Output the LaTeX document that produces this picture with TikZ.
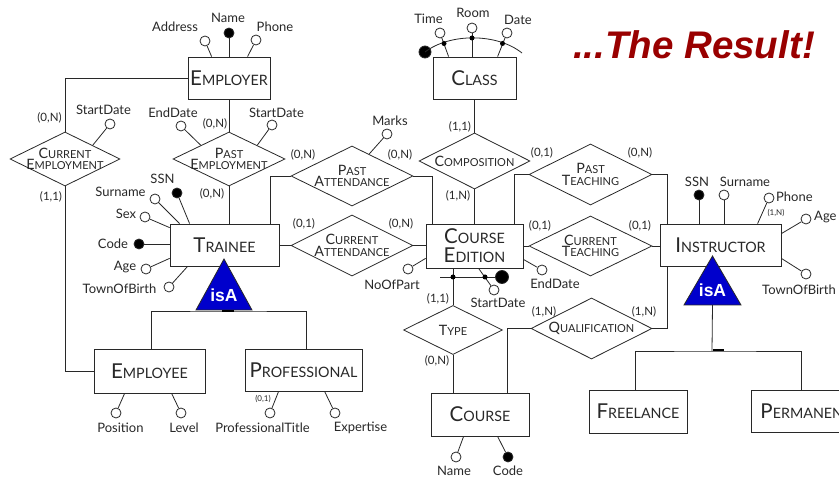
\documentclass[tikz,border=0pt]{standalone}
\usepackage{fontspec}
\setmainfont{Lato}
\newfontfamily\arialf{Liberation Sans}
\usetikzlibrary{shapes.geometric}
\definecolor{titlered}{RGB}{153,0,0}
\definecolor{isablue}{RGB}{0,0,204}
\definecolor{inkc}{RGB}{40,40,40}
\newcommand\EntSC[2]{{\fontsize{20.5}{21}\selectfont #1}{\fontsize{14.3}{15}\selectfont #2}}
\newcommand\RelSC[2]{{\fontsize{14.3}{11.5}\selectfont #1}{\fontsize{11}{11.5}\selectfont #2}}
\begin{document}
\begin{tikzpicture}[x=1pt,y=-1pt,
  ln/.style={draw=inkc, line width=0.8pt},
  ent/.style={draw=inkc, line width=0.8pt, fill=white, inner sep=0pt, text=inkc},
  rel/.style={diamond, draw=inkc, line width=0.8pt, fill=white, inner sep=0pt},
  reltext/.style={align=center, inner sep=0pt, text=inkc, font=\fontsize{11}{11.5}\selectfont},
  attr/.style={circle, draw=inkc, line width=0.8pt, fill=white, minimum size=10pt, inner sep=0pt},
  keyattr/.style={attr, fill=black},
  iddot/.style={circle, fill=black, minimum size=5pt, inner sep=0pt},
  lbl/.style={inner sep=0pt, text=inkc, font=\fontsize{13}{13}\selectfont},
  card/.style={inner sep=0pt, text=inkc, font=\fontsize{11.5}{12}\selectfont},
  tinycard/.style={inner sep=0pt, text=inkc, font=\fontsize{8}{8}\selectfont},
  isa/.style={draw=inkc, line width=0.8pt, fill=isablue},
  isatext/.style={inner sep=0pt, text=white, font=\arialf\bfseries\fontsize{17.5}{18}\selectfont}
]
\useasboundingbox (0,0) rectangle (839,478);
\fill[white] (0,0) rectangle (839,478);
\clip (0,0) rectangle (839,478);

% title
\node[inner sep=0pt, text=titlered, font=\arialf\bfseries\itshape\fontsize{38.5}{40}\selectfont] (title) at (694,45) {...The Result!};

% entities
\node[ent, minimum width=82pt, minimum height=42pt] (employer) at (229,78) {\EntSC{E}{MPLOYER}};
\node[ent, minimum width=109pt, minimum height=42pt] (trainee) at (224.5,245) {\EntSC{T}{RAINEE}};
\node[ent, minimum width=111pt, minimum height=44pt] (employee) at (149.5,371) {\EntSC{E}{MPLOYEE}};
\node[ent, minimum width=117pt, minimum height=42pt] (professional) at (303.5,370) {\EntSC{P}{ROFESSIONAL}};
\node[ent, minimum width=83pt, minimum height=42pt] (class) at (474.5,78) {\EntSC{C}{LASS}};
\node[ent, minimum width=97pt, minimum height=44pt, align=center, font=\fontsize{14.3}{19}\selectfont] (courseed) at (474.5,246) {\EntSC{C}{OURSE}\\\EntSC{E}{DITION}};
\node[ent, minimum width=98pt, minimum height=43pt] (course) at (480,414.5) {\EntSC{C}{OURSE}};
\node[ent, minimum width=121pt, minimum height=42pt] (instructor) at (720.5,245) {\EntSC{I}{NSTRUCTOR}};
\node[ent, minimum width=98pt, minimum height=43pt] (freelance) at (638,411.5) {\EntSC{F}{REELANCE}};
\node[ent, minimum width=110pt, minimum height=42pt] (permanent) at (806,411) {\EntSC{P}{ERMANENT}};

% relationships
\node[rel, minimum width=110pt, minimum height=54pt] (curemp) at (65,159) {};
\node[reltext] (curempT) at (65,159) {\RelSC{C}{URRENT}\\\RelSC{E}{MPLOYMENT}};
\node[rel, minimum width=112pt, minimum height=54pt] (pastemp) at (229,159) {};
\node[reltext] (pastempT) at (229,159) {\RelSC{P}{AST}\\\RelSC{E}{MPLOYMENT}};
\node[rel, minimum width=122pt, minimum height=60pt] (pastatt) at (352,176) {};
\node[reltext] (pastattT) at (352,176) {\RelSC{P}{AST}\\\RelSC{A}{TTENDANCE}};
\node[rel, minimum width=122pt, minimum height=61pt] (curatt) at (352,245.5) {};
\node[reltext] (curattT) at (352,245.5) {\RelSC{C}{URRENT}\\\RelSC{A}{TTENDANCE}};
\node[rel, minimum width=111pt, minimum height=56pt] (compos) at (474.5,161) {};
\node[reltext] (composT) at (474.5,161) {\RelSC{C}{OMPOSITION}};
\node[rel, minimum width=123pt, minimum height=61pt] (pastteach) at (590.5,174.5) {};
\node[reltext] (pastteachT) at (590.5,174.5) {\RelSC{P}{AST}\\\RelSC{T}{EACHING}};
\node[rel, minimum width=123pt, minimum height=60pt] (curteach) at (590.5,246) {};
\node[reltext] (curteachT) at (590.5,246) {\RelSC{C}{URRENT}\\\RelSC{T}{EACHING}};
\node[rel, minimum width=99pt, minimum height=49pt] (type) at (453,330) {};
\node[reltext] (typeT) at (453,330) {\RelSC{T}{YPE}};
\node[rel, minimum width=121pt, minimum height=61pt] (qualif) at (591.5,328.5) {};
\node[reltext] (qualifT) at (591.5,328.5) {\RelSC{Q}{UALIFICATION}};

% relationship connectors
\draw[ln] (employer.west) -| (curemp.north);
\draw[ln] (curemp.south) |- (employee.west);
\draw[ln] (employer.south) -- (pastemp.north);
\draw[ln] (pastemp.south) -- (pastemp.south |- trainee.north);
\draw[ln] (pastatt.west) -| ([xshift=-9pt]trainee.north east);
\draw[ln] (pastatt.east) -| ([xshift=7pt]courseed.north west);
\draw[ln] (curatt.west) -- (curatt.west -| trainee.east);
\draw[ln] (curatt.east) -- (curatt.east -| courseed.west);
\draw[ln] (class.south) -- (compos.north);
\draw[ln] (compos.south) -- (compos.south |- courseed.north);
\draw[ln] (pastteach.west) -| ([xshift=-9pt]courseed.north east);
\draw[ln] (pastteach.east) -| ([xshift=8pt]instructor.north west);
\draw[ln] (curteach.west) -- (curteach.west -| courseed.east);
\draw[ln] (curteach.east) -- (curteach.east -| instructor.west);
\draw[ln] (qualif.east) -| ([xshift=8pt]instructor.south west);
\draw[ln] (qualif.west) -| ([xshift=77pt]course.north west);
\draw[ln] (type.north) -- (type.north |- courseed.south);
\draw[ln] (type.south) -- (type.south |- course.north);

% cardinalities
\node[card] (c1) at (49.5,118) {(0,N)};
\node[card] (c2) at (51,197) {(1,1)};
\node[card] (c3) at (215,124) {(0,N)};
\node[card] (c4) at (212,194) {(0,N)};
\node[card] (c5) at (303,155) {(0,N)};
\node[card] (c6) at (400,155) {(0,N)};
\node[card] (c7) at (304,224) {(0,1)};
\node[card] (c8) at (401,224) {(0,N)};
\node[card] (c9) at (460,127) {(1,1)};
\node[card] (c10) at (458,196) {(1,N)};
\node[card] (c11) at (542,153) {(0,1)};
\node[card] (c12) at (640,153) {(0,N)};
\node[card] (c13) at (540,226) {(0,1)};
\node[card] (c14) at (640,226) {(0,1)};
\node[card] (c15) at (438,299) {(1,1)};
\node[card] (c16) at (437,361) {(0,N)};
\node[card] (c17) at (544,312) {(1,N)};
\node[card] (c18) at (644,312) {(1,N)};

% Employer attributes
\node[attr] (emAddr) at (205,41) {};
\node[keyattr] (emName) at (229,33) {};
\node[attr] (emPhone) at (256,40) {};
\draw[ln] (emAddr) -- ([xshift=24pt]employer.north west);
\draw[ln] (emName) -- (employer.north);
\draw[ln] (emPhone) -- ([xshift=60pt]employer.north west);
\node[lbl] (emAddrL) at (175,27) {Address};
\node[lbl] (emNameL) at (228,18) {Name};
\node[lbl] (emPhoneL) at (275,27) {Phone};

% Current employment attribute
\node[attr] (cmSD) at (110,124) {};
\draw[ln] (cmSD) -- (curemp.north east);
\node[lbl] (cmSDL) at (103.5,110) {StartDate};

% Past employment attributes
\node[attr] (peED) at (181,126) {};
\node[attr] (peSD) at (272,125) {};
\draw[ln] (peED) -- (pastemp.north west);
\draw[ln] (peSD) -- (pastemp.north east);
\node[lbl] (peEDL) at (173,113) {EndDate};
\node[lbl] (peSDL) at (276.5,113) {StartDate};

% Past attendance attribute
\node[attr] (paMk) at (387,134) {};
\draw[ln] (paMk) -- (pastatt.52);
\node[lbl] (paMkL) at (390,121) {Marks};

% Trainee attributes
\node[keyattr] (trSSN) at (177,193) {};
\node[attr] (trSur) at (155,199) {};
\node[attr] (trSex) at (145,217) {};
\node[keyattr] (trCode) at (139,244) {};
\node[attr] (trAge) at (146,269) {};
\node[attr] (trTown) at (169,287) {};
\draw[ln] (trSSN) -- ([xshift=20pt]trainee.north west);
\draw[ln] (trSur) -- ([xshift=10pt]trainee.north west);
\draw[ln] (trSex) -- ([yshift=-4pt]trainee.north west);
\draw[ln] (trCode) -- (trCode -| trainee.west);
\draw[ln] (trAge) -- ([yshift=8pt]trainee.south west);
\draw[ln] (trTown) -- ([xshift=18pt]trainee.south west);
\node[lbl] (trSSNL) at (162.5,179) {SSN};
\node[lbl] (trSurL) at (120.5,192) {Surname};
\node[lbl] (trSexL) at (126,214) {Sex};
\node[lbl] (trCodeL) at (113,244) {Code};
\node[lbl] (trAgeL) at (125,267) {Age};
\node[lbl] (trTownL) at (119.5,289) {TownOfBirth};

% Class attributes (composite identifier)
\node[keyattr, minimum size=12pt] (clKey) at (425,52) {};
\node[attr] (clTime) at (440,33) {};
\node[attr] (clRoom) at (472,28) {};
\node[attr] (clDate) at (507,33) {};
\coordinate (clArcEnd) at (522,53);
\draw[ln] (clKey.center) .. controls (450,33) and (497,33) .. (clArcEnd);
\draw[ln] (clTime) -- ([xshift=16pt]class.north west);
\draw[ln] (clRoom) -- (clRoom |- class.north);
\draw[ln] (clDate) -- ([xshift=65pt]class.north west);
\node[iddot] (clD1) at (444,43.5) {};
\node[iddot] (clD2) at (472,38) {};
\node[iddot] (clD3) at (502.5,43.5) {};
\node[lbl] (clTimeL) at (428.5,19) {Time};
\node[lbl] (clRoomL) at (473,13) {Room};
\node[lbl] (clDateL) at (518,20) {Date};

% Course edition attributes
\node[attr] (edNo) at (408,269) {};
\draw[ln] (edNo) -- ([yshift=10pt]courseed.south west);
\coordinate (edIdL) at (440,277);
\node[keyattr, minimum size=13pt] (edKey) at (502,277) {};
\draw[ln] (edIdL) -- (edKey);
\node[attr] (edSD) at (494,290) {};
\draw[ln] (edSD) -- ([xshift=53pt]courseed.south west);
\node[attr] (edED) at (542,270) {};
\draw[ln] (edED) -- ([yshift=9pt]courseed.south east);
\node[iddot] (edD1) at (453,277) {};
\node[iddot] (edD2) at (485,277) {};
\node[lbl] (edNoL) at (392,285) {NoOfPart};
\node[lbl] (edSDL) at (498,303) {StartDate};
\node[lbl] (edEDL) at (555,284) {EndDate};

% Course attributes
\node[attr] (coName) at (456,457) {};
\node[keyattr] (coCode) at (508,457) {};
\draw[ln] (coName) -- ([xshift=33pt]course.south west);
\draw[ln] (coCode) -- ([xshift=67pt]course.south west);
\node[lbl] (coNameL) at (454,471) {Name};
\node[lbl] (coCodeL) at (508,471) {Code};

% Instructor attributes
\node[keyattr] (inSSN) at (699,195) {};
\node[attr] (inSur) at (724,195) {};
\node[attr] (inPh) at (769,198) {};
\node[attr] (inAge) at (806,219) {};
\node[attr] (inTown) at (806,274) {};
\draw[ln] (inSSN) -- (inSSN |- instructor.north);
\draw[ln] (inSur) -- (inSur |- instructor.north);
\draw[ln] (inPh) -- ([xshift=98pt]instructor.north west);
\draw[ln] (inAge) -- ([yshift=-10pt]instructor.north east);
\draw[ln] (inTown) -- ([yshift=8pt]instructor.south east);
\node[lbl] (inSSNL) at (697,182) {SSN};
\node[lbl] (inSurL) at (745,182) {Surname};
\node[lbl, anchor=west] (inPhL) at (776,197) {Phone};
\node[tinycard] (inPhC) at (776,213) {(1,N)};
\node[lbl, anchor=west] (inAgeL) at (814,217) {Age};
\node[lbl, anchor=west] (inTownL) at (762,290) {TownOfBirth};

% Employee / Professional attributes
\node[attr] (eyPos) at (116,413) {};
\node[attr] (eyLev) at (181,413) {};
\draw[ln] (eyPos) -- ([xshift=31pt]employee.south west);
\draw[ln] (eyLev) -- ([xshift=78pt]employee.south west);
\node[lbl] (eyPosL) at (120.5,428) {Position};
\node[lbl] (eyLevL) at (184,428) {Level};
\node[attr] (prTit) at (270,413) {};
\node[attr] (prExp) at (335,413) {};
\draw[ln] (prTit) -- ([xshift=34pt]professional.south west);
\draw[ln] (prExp) -- ([xshift=80pt]professional.south west);
\node[tinycard] (prTitC) at (263,399) {(0,1)};
\node[lbl] (prTitL) at (262.5,428) {ProfessionalTitle};
\node[lbl] (prExpL) at (360.5,428) {Expertise};

% isA hierarchy of Trainee
\coordinate (isaT) at (224,310);
\coordinate (hT) at (228,311);
\draw[ln] ([xshift=58pt]employee.north west) |- (hT) -| ([xshift=62pt]professional.north west);
\draw[isa] ([xshift=-28pt]isaT) -- ([yshift=51pt]isaT) -- ([xshift=28pt]isaT) -- cycle;
\node[isatext] (isaTT) at (224,295) {isA};
\draw[draw=black, line width=2.2pt] ([xshift=-6pt]hT) -- ([xshift=6pt]hT);

% isA hierarchy of Instructor
\coordinate (isaI) at (712.5,305);
\coordinate (hI) at (712,351);
\draw[ln] (isaI) -- (hI);
\draw[ln] ([xshift=47pt]freelance.north west) |- (hI) -| ([xshift=51pt]permanent.north west);
\draw[isa] ([xshift=-28.5pt]isaI) -- ([yshift=49pt]isaI) -- ([xshift=28.5pt]isaI) -- cycle;
\node[isatext] (isaIT) at (712.5,290) {isA};
\draw[draw=black, line width=2pt] ([xshift=1pt,yshift=1pt]hI) -- ([xshift=12pt,yshift=1pt]hI);
\end{tikzpicture}
\end{document}
